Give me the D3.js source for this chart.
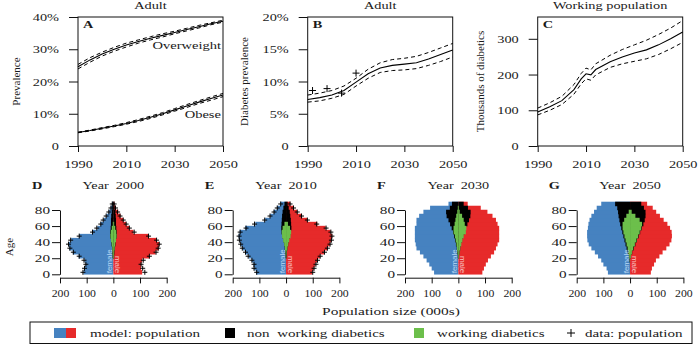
<!DOCTYPE html>
<html><head><meta charset="utf-8">
<script src="https://cdn.jsdelivr.net/npm/d3@7"></script>
<style>
body{margin:0;background:#fff}
svg text{font-family:"Liberation Serif","Times New Roman",serif;fill:#1a1a1a;white-space:pre}
.tk{font-size:11px}.tt{font-size:11px}.lt{font-size:11px;font-weight:bold}
.yl{font-size:11px}.bt{font-size:10.5px}.yr{font-size:11px}.lg{font-size:11px}
.fm{font-family:"Liberation Sans",Arial,sans-serif!important;font-size:8px}
</style></head><body>
<svg id="c" width="700" height="350"></svg>
<script>
// ---------- data: top panels ----------
const years = [1990,1995,2000,2005,2010,2015,2020,2025,2030,2035,2040,2045,2050];
const owMid  = [24.6,26.7,28.5,30.0,31.3,32.4,33.4,34.3,35.2,36.1,37.0,37.9,38.7];
const owHigh = [25.3,27.4,29.1,30.6,31.9,32.9,33.9,34.8,35.6,36.5,37.4,38.2,39.0];
const owLow  = [23.9,26.0,27.9,29.4,30.7,31.9,32.9,33.8,34.8,35.7,36.6,37.6,38.4];
const obMid  = [4.2,4.8,5.5,6.2,7.0,7.9,8.9,10.0,11.2,12.4,13.6,14.7,15.8];
const obHigh = [4.3,4.95,5.7,6.4,7.25,8.2,9.25,10.35,11.6,12.85,14.05,15.2,16.3];
const obLow  = [4.1,4.65,5.3,6.0,6.75,7.6,8.55,9.65,10.8,11.95,13.15,14.2,15.3];
const dbMid  = [7.2,7.5,7.9,8.6,9.9,11.2,12.1,12.5,12.7,12.9,13.5,14.2,14.9];
const dbHigh = [7.9,8.2,8.6,9.3,10.5,11.9,12.9,13.4,13.6,13.9,14.5,15.2,15.9];
const dbLow  = [6.8,7.0,7.4,8.0,9.3,10.5,11.4,11.7,11.8,12.0,12.5,13.1,13.8];
const dbDataYears = [1992,1998,2004,2010];
const dbData = [8.6,8.9,8.2,11.3];
const wpYears = [1990,1995,2000,2005,2008,2010,2012,2014,2020,2025,2030,2035,2040,2045,2050];
const wpMid  = [95,110,127,158,188,202,199,214,236,249,260,269,283,300,319];
const wpHigh = [106,121,139,172,203,218,213,230,254,270,283,296,312,330,351];
const wpLow  = [87,100,116,145,174,188,184,199,220,230,237,244,256,272,290];
const yearTicks = [1990,2010,2030,2050];
const ticksA = [0,10,20,30,40], ticksB = [0,5,10,15,20], ticksC = [0,100,200,300];

// ---------- data: pyramids (5-year age groups, thousands) ----------
const ages = [0,5,10,15,20,25,30,35,40,45,50,55,60,65,70,75,80,85];
const popF2000 = [112,106,104,108,130,152,165,168,158,128,80,60,48,36,26,17,10,5];
const popM2000 = [108,104,104,108,135,158,170,172,160,130,75,60,48,37,27,18,10,4];
const blkF2000 = [0,0,0,0,3,4,5,7,9,12,12,10,9,9,8,6,4,2];
const blkM2000 = [0,0,0,0,3,4,6,8,10,13,13,11,10,10,9,7,4,2];
const grnF2000 = [0,0,0,0,2,3,4,6,9,11,10,6,2,0,0,0,0,0];
const grnM2000 = [0,0,0,0,2,3,5,7,10,12,11,7,3,0,0,0,0,0];
const datF2000 = [114,108,103,110,128,150,163,168,160,128,78,62,47,38,27,17,9,4];
const datM2000 = [118,110,104,112,135,160,168,172,162,132,78,60,48,37,25,16,8,3];

const popF2010 = [112,119,122,128,140,153,162,169,174,178,174,153,115,78,59,46,34,21];
const popM2010 = [98,104,110,117,127,142,154,164,169,173,167,148,117,79,60,41,29,16];
const blkF2010 = [0,0,0,0,2,3,5,7,10,14,17,18,17,16,15,13,10,6];
const blkM2010 = [0,0,0,0,2,3,5,8,11,15,18,20,19,18,16,14,10,6];
const grnF2010 = [0,0,0,0,1,2,4,7,11,15,16,13,6,0,0,0,0,0];
const grnM2010 = [0,0,0,0,1,2,5,8,12,17,19,15,7,0,0,0,0,0];
const datF2010 = [110,120,120,128,142,152,164,170,175,176,172,150,118,80,60,45,33,20];
const datM2010 = [100,105,112,118,128,144,155,165,170,172,168,150,115,80,58,42,28,15];

const popF2030 = [91,100,109,119,131,144,157,160,163,163,163,163,157,157,147,131,106,37];
const popM2030 = [90,96,103,111,122,134,141,147,153,153,153,153,147,141,128,109,84,35];
const blkF2030 = [0,0,0,0,2,4,6,9,12,16,20,25,31,37,44,46,32,24];
const blkM2030 = [0,0,0,0,2,4,7,10,14,18,23,28,34,40,45,46,36,20];
const grnF2030 = [0,0,0,0,1,3,5,7,10,13,18,18,14,11,8,4,2,0];
const grnM2030 = [0,0,0,0,2,4,7,11,15,20,28,30,24,20,14,5,2,0];

const popF2050 = [83,88,100,108,120,132,145,155,160,161,161,158,156,152,145,135,125,108];
const popM2050 = [78,82,90,97,110,122,136,148,155,157,156,150,140,126,112,98,85,64];
const blkF2050 = [0,0,0,2,5,9,13,17,21,25,29,33,37,40,43,45,48,56];
const blkM2050 = [0,0,0,0,3,8,14,20,26,32,38,44,50,55,58,58,52,42];
const grnF2050 = [0,0,0,1,3,6,9,13,17,21,25,28,28,22,14,5,0,0];
const grnM2050 = [0,0,0,0,3,7,12,18,24,30,36,42,45,36,20,6,0,0];

const popTicks = [-200,-100,0,100,200];
const ageTicks = [0,20,40,60,80];
const legendLabels = ["model: population","non  working diabetics","working diabetics","data: population"];

const BLUE="#4682c0", RED="#e62a2a", GREEN="#6cbf4b", BLACK="#000";

// ---------- drawing ----------
const svg = d3.select('#c');
function stretch(sel,k){ sel.each(function(){ const w=this.getComputedTextLength(); this.setAttribute('textLength',w*k); this.setAttribute('lengthAdjust','spacingAndGlyphs'); }); }
function styleAxis(a, cls, k){ a.attr('font-family',null).attr('font-size',null);
  a.selectAll('line').attr('stroke','#111'); a.select('.domain').attr('stroke','#111');
  const t=a.selectAll('text').attr('class',cls).attr('fill',null); stretch(t,k); }

const TOP=17, BOT=146, TW=145;
const topLefts=[78,307.7,537.7];

function topPanel(i, yMax, yTicks, fmt, title, letter, ylab, ylabX){
  const L=topLefts[i];
  const x=d3.scaleLinear().domain([1990,2050]).range([L,L+TW]);
  const y=d3.scaleLinear().domain([0,yMax]).range([BOT,TOP]);
  const g=svg.append('g');
  g.append('rect').attr('x',L).attr('y',TOP).attr('width',TW).attr('height',BOT-TOP).attr('fill','none').attr('stroke','#111');
  const ya=g.append('g').attr('transform',`translate(${L},0)`).call(d3.axisLeft(y).tickValues(yTicks).tickFormat(fmt).tickSize(9).tickPadding(10).tickSizeOuter(0));
  ya.select('.domain').remove(); styleAxis(ya,'tk',1.3);
  const xa=g.append('g').attr('transform',`translate(0,${BOT})`).call(d3.axisBottom(x).tickValues(yearTicks).tickFormat(d3.format('d')).tickSize(6).tickPadding(8).tickSizeOuter(0));
  xa.select('.domain').remove(); styleAxis(xa,'tk',1.3);
  stretch(g.append('text').attr('class','tt').attr('x',L+TW/2).attr('y',9).attr('text-anchor','middle').text(title),1.3);
  stretch(g.append('text').attr('class','lt').attr('x',L+5).attr('y',28).text(letter),1.3);
  g.append('text').attr('class','yl').attr('transform',`translate(${ylabX},${(TOP+BOT)/2}) rotate(-90)`).attr('text-anchor','middle').text(ylab);
  return {g,x,y};
}
function lines(p, xs, mid, hi, lo){
  const ln=d3.line().x((d,j)=>p.x(xs[j])).y(d=>p.y(d));
  p.g.append('path').attr('d',ln(mid)).attr('fill','none').attr('stroke','#000').attr('stroke-width',1.1);
  [hi,lo].forEach(a=>p.g.append('path').attr('d',ln(a)).attr('fill','none').attr('stroke','#000').attr('stroke-width',1).attr('stroke-dasharray','4,3'));
}
const pct = d=> d===0? '0' : d+'%';
const pA=topPanel(0,40,ticksA,pct,'Adult','A','Prevalence',20);
lines(pA,years,owMid,owHigh,owLow); lines(pA,years,obMid,obHigh,obLow);
stretch(pA.g.append('text').attr('class','tt').attr('x',221).attr('y',48.5).attr('text-anchor','end').text('Overweight'),1.32);
stretch(pA.g.append('text').attr('class','tt').attr('x',221).attr('y',118).attr('text-anchor','end').text('Obese'),1.32);
const pB=topPanel(1,20,ticksB,pct,'Adult','B','Diabetes prevalence',248);
lines(pB,years,dbMid,dbHigh,dbLow);
pB.g.selectAll('path.cross').data(dbData).join('path').attr('class','cross')
  .attr('transform',(d,j)=>`translate(${pB.x(dbDataYears[j])},${pB.y(d)})`).attr('d','M-3.5,0H3.5M0,-3.5V3.5').attr('stroke','#000').attr('stroke-width',1);
const pC=topPanel(2,361,ticksC,d3.format('d'),'Working population','C','Thousands of diabetics',484);
lines(pC,wpYears,wpMid,wpHigh,wpLow);

// pyramids
const pyrLefts=[60,232.7,405,576.7], PW=106.7;
const ys=d3.scaleLinear().domain([0,80]).range([274.3,210]);
function pyramid(i, pF,pM,bF,bM,gF,gM,dF,dM, year, letter){
  const L=pyrLefts[i];
  const x=d3.scaleLinear().domain([-200,200]).range([L,L+PW]);
  const g=svg.append('g');
  const bh=ys(0)-ys(5);
  function bars(vals, sign, color){
    g.append('g').selectAll('rect').data(vals).join('rect')
      .attr('x',d=> sign<0? x(-d): x(0)).attr('width',d=>Math.abs(x(d)-x(0)))
      .attr('y',(d,j)=>ys(ages[j]+5)-0.25).attr('height',bh+0.5).attr('fill',color);
  }
  bars(pF,-1,BLUE); bars(pM,1,RED); bars(bF,-1,BLACK); bars(bM,1,BLACK); bars(gF,-1,GREEN); bars(gM,1,GREEN);
  const x0=x(0);
  g.append('text').attr('class','fm').attr('transform',`translate(${x0-1.2},${ys(0)-1}) rotate(-90)`).style('fill','#b9d8f5').text('female');
  g.append('text').attr('class','fm').attr('transform',`translate(${x0+1.8},${ys(0)-1}) rotate(90)`).attr('text-anchor','end').style('fill','#f7c0c0').text('male');
  if(dF){
    const cr='M-2.5,0H2.5M0,-2.5V2.5';
    g.append('g').selectAll('path').data(dF).join('path').attr('d',cr).attr('stroke','#000').attr('fill','none')
      .attr('transform',(d,j)=>`translate(${x(-d)},${ys(ages[j]+2.5)})`);
    g.append('g').selectAll('path').data(dM).join('path').attr('d',cr).attr('stroke','#000').attr('fill','none')
      .attr('transform',(d,j)=>`translate(${x(d)},${ys(ages[j]+2.5)})`);
  }
  const ya=g.append('g').attr('transform',`translate(${L},0)`).call(d3.axisLeft(ys).tickValues(ageTicks).tickSize(8).tickPadding(2).tickSizeOuter(0));
  styleAxis(ya,'bt',1.45);
  const xa=g.append('g').attr('transform',`translate(0,277.7)`).call(d3.axisBottom(x).tickValues(popTicks).tickFormat(d=>Math.abs(d)).tickSize(5.7).tickPadding(6).tickSizeOuter(0));
  styleAxis(xa,'bt',1.12);
  stretch(g.append('text').attr('class','yr').attr('x',x0).attr('y',189).attr('text-anchor','middle').text('Year  '+year),1.29);
  stretch(g.append('text').attr('class','lt').attr('x',L-28).attr('y',189).text(letter),1.3);
}
pyramid(0,popF2000,popM2000,blkF2000,blkM2000,grnF2000,grnM2000,datF2000,datM2000,2000,'D');
pyramid(1,popF2010,popM2010,blkF2010,blkM2010,grnF2010,grnM2010,datF2010,datM2010,2010,'E');
pyramid(2,popF2030,popM2030,blkF2030,blkM2030,grnF2030,grnM2030,null,null,2030,'F');
pyramid(3,popF2050,popM2050,blkF2050,blkM2050,grnF2050,grnM2050,null,null,2050,'G');
svg.append('text').attr('class','yl').attr('transform',`translate(13,247) rotate(-90)`).attr('text-anchor','middle').text('Age');
stretch(svg.append('text').attr('class','tt').attr('x',391).attr('y',315).attr('text-anchor','middle').text('Population size (000s)'),1.4);

// legend
const lg=svg.append('g');
lg.append('rect').attr('x',30).attr('y',322).attr('width',662).attr('height',21.5).attr('fill','none').attr('stroke','#111');
const lgX=[90,247,437,585];
lg.append('rect').attr('x',54).attr('y',328).attr('width',12).attr('height',10).attr('fill',BLUE);
lg.append('rect').attr('x',66).attr('y',328).attr('width',10).attr('height',10).attr('fill',RED);
lg.append('rect').attr('x',225).attr('y',328).attr('width',10).attr('height',10).attr('fill',BLACK);
lg.append('rect').attr('x',414).attr('y',328).attr('width',10).attr('height',10).attr('fill',GREEN);
lg.append('path').attr('d','M567,333h8M571,329v8').attr('stroke','#000');
lg.selectAll('text').data(legendLabels).join('text').attr('class','lg').attr('x',(d,j)=>lgX[j]).attr('y',337).text(d=>d)
  .call(s=>stretch(s,1.37));
</script>
</body></html>
